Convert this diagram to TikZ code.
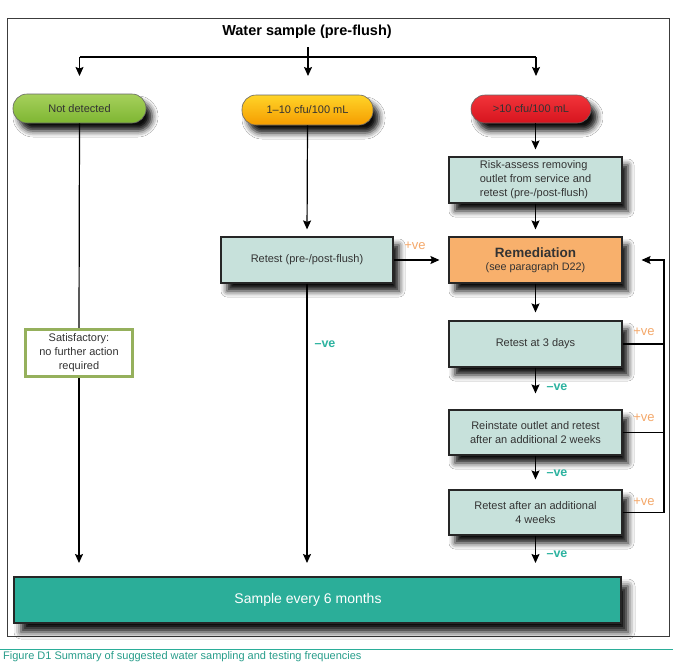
\documentclass[tikz,border=0pt]{standalone}
\usepackage{fontspec}
\setmainfont{Liberation Sans}
\usetikzlibrary{arrows.meta,shadows.blur,calc}
\definecolor{txt}{HTML}{333333}
\definecolor{tealbox}{HTML}{2BAE99}
\definecolor{lteal}{HTML}{C7E1DB}
\definecolor{remor}{HTML}{F8B06C}
\definecolor{posc}{HTML}{F4A86A}
\definecolor{negc}{HTML}{2DB3A0}
\definecolor{satg}{HTML}{95B05C}
\definecolor{framec}{HTML}{3C3C3C}
\tikzset{
  shad/.style={blur shadow={shadow xshift=6pt, shadow yshift=-8pt, shadow blur radius=6pt, shadow opacity=95}},
  pill/.style={shape=rectangle, rounded corners=14pt, draw=black!60, line width=0.6pt, minimum height=29pt, inner sep=0pt, font=\fontsize{11}{13}\selectfont, text=txt, shad},
  box/.style={shape=rectangle, draw=black!85, line width=1.1pt, fill=lteal, minimum width=173pt, minimum height=46pt, inner sep=0pt, font=\fontsize{11}{14}\selectfont, text=txt, align=center, shad},
  arr/.style={draw=black, line width=1.2pt, -{Stealth[length=9pt,width=8pt,inset=1.5pt]}},
  ln/.style={draw=black, line width=1.2pt},
  poslab/.style={text=posc, font=\fontsize{13}{13}\selectfont},
  neglab/.style={text=negc, font=\bfseries\fontsize{12.5}{13}\selectfont},
}
\begin{document}
\begin{tikzpicture}[x=1pt,y=-1pt]
\useasboundingbox (0,0) rectangle (685,664);
\fill[white] (0,0) rectangle (685,664);
% frame
\draw[framec, line width=1pt] (7,18) rectangle (669,636);
% title
\node[font=\bfseries\fontsize{14.5}{16}\selectfont, text=black] (title) at (307,32) {Water sample (pre-flush)};
\coordinate (ts) at (308,47);
\coordinate (bl) at (79.5,57);
\coordinate (br) at (536,57);
\coordinate (tipy) at (0,76);
\coordinate (st) at (0,563);
% pills
\node[pill, minimum width=133pt, top color={rgb,255:red,166;green,208;blue,92}, bottom color={rgb,255:red,126;green,182;blue,50}] (nd) at (79.5,108.5) {Not detected};
\node[pill, minimum width=131pt, minimum height=30pt, top color={rgb,255:red,255;green,212;blue,40}, bottom color={rgb,255:red,245;green,156;blue,0}] (low) at (307.5,110) {1--10 cfu/100 mL};
\node[pill, minimum width=120pt, minimum height=28pt, top color={rgb,255:red,242;green,52;blue,58}, bottom color={rgb,255:red,214;green,20;blue,30}] (high) at (531,109) {>10 cfu/100 mL};
% boxes
\node[box, align=left] (risk) at (535.5,180) {Risk-assess removing\\outlet from service and\\retest (pre-/post-flush)};
\node[box, fill=remor] (rem) at (535.5,260) {{\bfseries\fontsize{13.5}{16}\selectfont Remediation}\\[-1pt]{\fontsize{10.8}{13}\selectfont (see paragraph D22)}};
\node[box, minimum width=172pt] (rt) at (307,260) {Retest (pre-/post-flush)};
\node[box] (r3) at (535.5,344) {Retest at 3 days};
\node[box, minimum height=45pt] (r2w) at (535.5,432.5) {Reinstate outlet and retest\\after an additional 2 weeks};
\node[box, minimum height=45pt] (r4w) at (535.5,512.5) {Retest after an additional\\4 weeks};
\node[shape=rectangle, draw=satg, line width=3.2pt, fill=white, minimum width=107pt, minimum height=47pt, inner sep=0pt, align=center, text=txt, font=\fontsize{11}{14}\selectfont] (sat) at (79,353) {Satisfactory:\\no further action\\required};
\node[shape=rectangle, draw=black!85, line width=1.1pt, fill=tealbox, minimum width=607pt, minimum height=46pt, inner sep=0pt, text=white, font=\fontsize{14}{16}\selectfont, blur shadow={shadow xshift=7pt, shadow yshift=-9pt, shadow blur radius=7pt, shadow opacity=95}] (samp) at (317.5,600) {\hspace*{-19pt}Sample every 6 months};
% top connectors
\draw[arr] (ts) -- (ts |- tipy);
\draw[ln] (bl) -- (br);
\draw[arr] (bl) -- (bl |- tipy);
\draw[arr] (br) -- (br |- tipy);
% left column
\draw[ln] (nd.south) -- (sat.north);
\draw[arr] (sat.south) -- (sat.south |- st);
% middle column
\draw[arr, shorten >=7pt] (low.south) -- (rt.north);
\draw[arr] (rt.south) -- (rt.south |- st);
\node[neglab] (n0) at (325,344) {--ve};
\draw[arr, shorten >=9pt] (rt.east) -- (rem.west);
\node[poslab] (p0) at (415,246) {+ve};
% right column
\draw[arr, shorten >=7pt] (risk.north |- high.south) -- (risk.north);
\draw[arr, shorten >=7pt] (risk.south) -- (rem.north);
\draw[arr, shorten >=8pt] (rem.south) -- (r3.north);
\draw[arr, shorten >=16pt] (r3.south) -- (r2w.north);
\draw[arr, shorten >=10pt] (r2w.south) -- (r4w.north);
\draw[arr] (r4w.south) -- (r4w.south |- st);
\node[neglab] (n1) at (557,387) {--ve};
\node[neglab] (n2) at (557,473) {--ve};
\node[neglab] (n3) at (557,554) {--ve};
% feedback
\coordinate (fb) at (664,260);
\draw[ln] (r3.east) -- (r3.east -| fb);
\draw[ln] (r2w.east) -- (r2w.east -| fb);
\draw[arr, shorten >=19pt] (r4w.east) -| (fb) -- (rem.east);
\node[poslab] (p1) at (644,332) {+ve};
\node[poslab] (p2) at (644,418) {+ve};
\node[poslab] (p3) at (644,502) {+ve};
% caption
\draw[tealbox, line width=1pt] (0,649) -- (673,649);
\node[anchor=west, text=tealbox!90!black, font=\fontsize{11}{12}\selectfont, inner sep=0pt] (cap) at (3,657) {Figure D1 Summary of suggested water sampling and testing frequencies};
\end{tikzpicture}
\end{document}
